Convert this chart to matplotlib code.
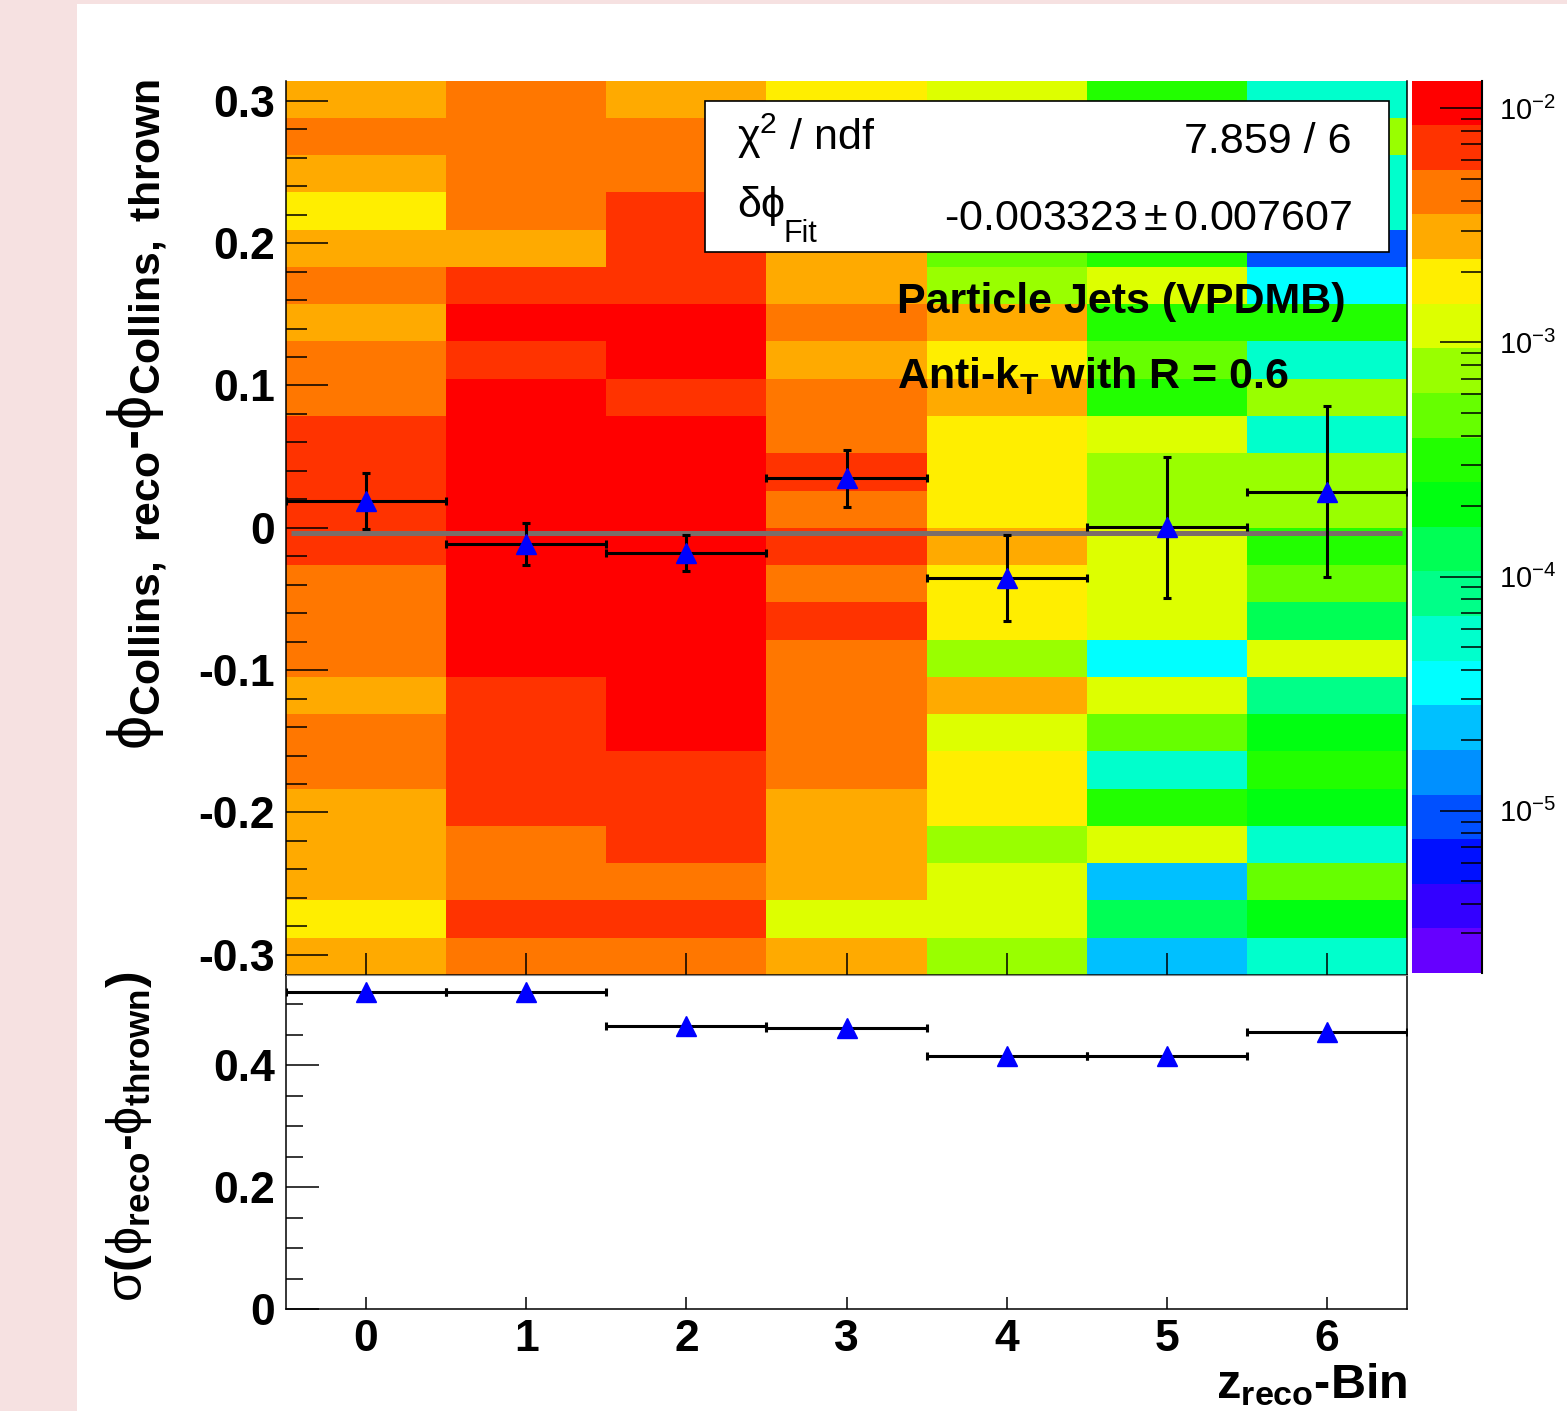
import numpy as np
import matplotlib
matplotlib.use("Agg")
import matplotlib.pyplot as plt
from matplotlib.colors import ListedColormap, LogNorm
from matplotlib.patches import Rectangle
from matplotlib.ticker import MultipleLocator, FuncFormatter, FixedLocator, NullFormatter

plt.rcParams['font.family'] = ['Liberation Sans', 'DejaVu Sans']
plt.rcParams['font.weight'] = 'bold'
plt.rcParams['mathtext.fontset'] = 'custom'
plt.rcParams['mathtext.rm'] = 'Liberation Sans:weight=normal'
plt.rcParams['mathtext.it'] = 'Liberation Sans:italic:weight=normal'
plt.rcParams['mathtext.bf'] = 'Liberation Sans:bold'
plt.rcParams['axes.unicode_minus'] = False

# =============================================================================
# DATOS
# =============================================================================

Z_BINS = [0, 1, 2, 3, 4, 5, 6]
N_PHI_BINS = 24
PHI_MAX = np.pi / 10

# densidad por celda: filas de phi = +0.31 (arriba) hasta -0.31 (abajo), columnas = z-bin 0..6
DENSITY = [
    [2.8e-3, 4.4e-3, 2.8e-3, 1.8e-3, 1.2e-3, 3.1e-4, 5.4e-5],
    [4.4e-3, 4.4e-3, 4.4e-3, 2.8e-3, 1.2e-3, 4.9e-4, 7.6e-4],
    [2.8e-3, 4.4e-3, 4.4e-3, 2.8e-3, 1.8e-3, 3.1e-4, 5.4e-5],
    [1.8e-3, 4.4e-3, 6.8e-3, 2.8e-3, 1.2e-3, 4.9e-4, 5.4e-5],
    [2.8e-3, 2.8e-3, 6.8e-3, 2.8e-3, 4.9e-4, 3.1e-4, 9.4e-6],
    [4.4e-3, 6.8e-3, 6.8e-3, 2.8e-3, 7.6e-4, 1.2e-3, 3.5e-5],
    [2.8e-3, 1.05e-2, 1.05e-2, 4.4e-3, 2.8e-3, 3.1e-4, 3.1e-4],
    [4.4e-3, 6.8e-3, 1.05e-2, 2.8e-3, 1.8e-3, 4.9e-4, 5.4e-5],
    [4.4e-3, 1.05e-2, 6.8e-3, 4.4e-3, 2.8e-3, 3.1e-4, 7.6e-4],
    [6.8e-3, 1.05e-2, 1.05e-2, 4.4e-3, 1.8e-3, 1.2e-3, 5.4e-5],
    [6.8e-3, 1.05e-2, 1.05e-2, 6.8e-3, 1.8e-3, 7.6e-4, 7.6e-4],
    [6.8e-3, 1.05e-2, 1.05e-2, 4.4e-3, 1.8e-3, 7.6e-4, 7.6e-4],
    [6.8e-3, 1.05e-2, 1.05e-2, 6.8e-3, 2.8e-3, 1.2e-3, 3.1e-4],
    [4.4e-3, 1.05e-2, 1.05e-2, 4.4e-3, 1.8e-3, 1.2e-3, 4.9e-4],
    [4.4e-3, 1.05e-2, 1.05e-2, 6.8e-3, 1.8e-3, 1.2e-3, 1.3e-4],
    [4.4e-3, 1.05e-2, 1.05e-2, 4.4e-3, 7.6e-4, 3.5e-5, 1.2e-3],
    [2.8e-3, 6.8e-3, 1.05e-2, 4.4e-3, 2.8e-3, 1.2e-3, 8.4e-5],
    [4.4e-3, 6.8e-3, 1.05e-2, 4.4e-3, 1.2e-3, 4.9e-4, 2.0e-4],
    [4.4e-3, 6.8e-3, 6.8e-3, 4.4e-3, 1.8e-3, 5.4e-5, 3.1e-4],
    [2.8e-3, 6.8e-3, 6.8e-3, 2.8e-3, 1.8e-3, 3.1e-4, 2.0e-4],
    [2.8e-3, 4.4e-3, 6.8e-3, 2.8e-3, 7.6e-4, 1.2e-3, 5.4e-5],
    [2.8e-3, 4.4e-3, 4.4e-3, 2.8e-3, 1.2e-3, 2.3e-5, 4.9e-4],
    [1.8e-3, 6.8e-3, 6.8e-3, 1.2e-3, 1.2e-3, 1.3e-4, 2.0e-4],
    [2.8e-3, 4.4e-3, 4.4e-3, 2.8e-3, 7.6e-4, 2.3e-5, 5.4e-5],
]

# media de phi_reco - phi_thrown por z-bin
PHI_MEAN = [0.019, -0.0113, -0.0179, 0.0349, -0.0352, 0.0004, 0.0255]
PHI_ERR = [0.0195, 0.0145, 0.0127, 0.020, 0.030, 0.0495, 0.060]

# anchura (sigma) por z-bin
SIGMA = [0.520, 0.520, 0.464, 0.461, 0.415, 0.415, 0.455]

FIT_MEAN = -0.003323
FIT_ERR = 0.007607
FIT_RANGE = (-0.47, 6.47)
CHI2 = 7.859
NDF = 6

PALETTE = ['#6600ff', '#3300ff', '#0010ff', '#0050ff', '#0090ff', '#00c0ff',
           '#00ffff', '#00ffcc', '#00ff88', '#00ff55', '#00ff11', '#22ff00',
           '#66ff00', '#99ff00', '#ddff00', '#ffee00', '#ffaa00', '#ff7700',
           '#ff3300', '#ff0000']
Z_MIN, Z_MAX = 2.03e-6, 1.31e-2

# =============================================================================
# FIGURA
# =============================================================================

W, H = 1567, 1411


def fx(x):
    """pixel -> fraccion de figura (horizontal)"""
    return x / W


def fy(y):
    """pixel -> fraccion de figura (vertical, desde arriba)"""
    return 1 - y / H


def fmt_g(v, pos):
    return f"{round(v, 3) + 0.0:g}"


fig = plt.figure(figsize=(W / 100, H / 100), dpi=100)
fig.patch.set_facecolor('#f6e1e1')
fig.add_artist(Rectangle((fx(77), 0), 1 - fx(77), fy(4), transform=fig.transFigure,
                         facecolor='white', edgecolor='none', zorder=-10))

ax = fig.add_axes([fx(286), fy(975), fx(1407) - fx(286), fy(80.6) - fy(975)])
axb = fig.add_axes([fx(286), fy(1309), fx(1407) - fx(286), fy(975) - fy(1309)])
cax = fig.add_axes([fx(1412), fy(973), fx(1482) - fx(1412), fy(80.6) - fy(973)])

# --- panel superior: mapa 2D + medias ---
cmap = ListedColormap(PALETTE)
norm = LogNorm(vmin=Z_MIN, vmax=Z_MAX)
x_edges = np.arange(len(Z_BINS) + 1) - 0.5
phi_edges = np.linspace(-PHI_MAX, PHI_MAX, N_PHI_BINS + 1)
mesh = ax.pcolormesh(x_edges, phi_edges, np.flipud(np.array(DENSITY)), cmap=cmap, norm=norm)

ax.hlines(FIT_MEAN, FIT_RANGE[0], FIT_RANGE[1], color='#7b6e69', lw=3.6, zorder=3)
ax.errorbar(Z_BINS, PHI_MEAN, xerr=0.5, yerr=PHI_ERR, fmt='^', color='blue', ms=15,
            ecolor='black', elinewidth=2.2, capsize=3, capthick=2.2, zorder=4)

ax.set_xlim(-0.5, 6.5)
ax.set_ylim(-PHI_MAX, PHI_MAX)
ax.xaxis.set_major_locator(FixedLocator(Z_BINS))
ax.yaxis.set_major_locator(MultipleLocator(0.1))
ax.yaxis.set_minor_locator(MultipleLocator(0.02))
ax.yaxis.set_major_formatter(FuncFormatter(fmt_g))
ax.tick_params(axis='x', direction='in', length=15.6, width=1.1, labelbottom=False)
ax.tick_params(axis='y', which='major', direction='in', length=30, width=1.1, labelsize=32, pad=8)
ax.tick_params(axis='y', which='minor', direction='in', length=15, width=1.1)
ax.spines['top'].set_visible(False)
for s in ['left', 'right', 'bottom']:
    ax.spines[s].set_linewidth(1.1)

# --- paleta ---
cb = fig.colorbar(mesh, cax=cax)
cb.outline.set_visible(False)
cb.minorticks_on()
cax.yaxis.set_ticks_position('right')
cax.yaxis.set_major_formatter(FuncFormatter(lambda v, p: r'$\mathrm{10^{%d}}$' % round(np.log10(v))))
cax.yaxis.set_minor_formatter(NullFormatter())
cax.tick_params(which='major', direction='in', length=30, width=1.1, labelsize=21, pad=12)
cax.tick_params(which='minor', direction='in', length=15, width=1.1)
cax.plot([1, 1], [0, 1], transform=cax.transAxes, color='black', lw=1.5, clip_on=False)

# --- caja de estadisticas ---
fig.add_artist(Rectangle((fx(705), fy(252)), fx(1389) - fx(705), fy(100.7) - fy(252),
                         transform=fig.transFigure, facecolor='white', edgecolor='black',
                         lw=1.2, zorder=5))
fig.text(fx(737), fy(150), r'$\mathrm{\chi}^{2}$ / ndf', fontsize=31, fontweight='normal',
         va='baseline', ha='left', zorder=6)
fig.text(fx(1352), fy(153), f'{CHI2:.3f} / {NDF}', fontsize=31, fontweight='normal',
         va='baseline', ha='right', zorder=6)
fig.text(fx(737), fy(217), r'$\mathrm{\delta\phi}$', fontsize=31, fontweight='normal',
         va='baseline', ha='left', zorder=6)
fig.text(fx(783), fy(242), 'Fit', fontsize=22, fontweight='normal',
         va='baseline', ha='left', zorder=6)
fig.text(fx(1352), fy(230), f'{FIT_MEAN:.6f}' + r'$\,\mathrm{\pm}\,$' + f'{FIT_ERR:.6f}', fontsize=31,
         fontweight='normal', va='baseline', ha='right', zorder=6)

fig.text(fx(897), fy(313), 'Particle Jets (VPDMB)', fontsize=31, va='baseline', ha='left', zorder=6)
fig.text(fx(897), fy(388), r'Anti-k$_{\mathbf{T}}$ with R = 0.6', fontsize=31, va='baseline',
         ha='left', zorder=6)

# --- panel inferior: anchura ---
axb.errorbar(Z_BINS, SIGMA, xerr=0.5, fmt='^', color='blue', ms=15, ecolor='black',
             elinewidth=2.2, capsize=3, capthick=2.2)
axb.set_xlim(-0.5, 6.5)
axb.set_ylim(0, 0.548)
axb.xaxis.set_major_locator(FixedLocator(Z_BINS))
axb.yaxis.set_major_locator(MultipleLocator(0.2))
axb.yaxis.set_minor_locator(MultipleLocator(0.05))
axb.yaxis.set_major_formatter(FuncFormatter(fmt_g))
axb.tick_params(axis='x', direction='in', length=9, width=1.1, labelsize=32, pad=7)
axb.tick_params(axis='y', which='major', direction='in', length=24, width=1.1, labelsize=32, pad=8)
axb.tick_params(axis='y', which='minor', direction='in', length=12, width=1.1)
for s in ['left', 'right', 'bottom']:
    axb.spines[s].set_linewidth(1.1)
axb.spines['top'].set_color('#888888')
axb.spines['top'].set_linewidth(0.8)

# --- titulos de ejes ---
fig.text(fx(137), fy(415), r'$\mathrm{\phi}_{\mathbf{Collins,\ reco}}$-$\mathrm{\phi}_{\mathbf{Collins,\ thrown}}$',
         fontsize=44, rotation=90, ha='center', va='center')
fig.text(fx(129), fy(1137), r'$\mathrm{\sigma}$($\mathrm{\phi}_{\mathbf{reco}}$-$\mathrm{\phi}_{\mathbf{thrown}}$)',
         fontsize=36, rotation=90, ha='center', va='center')
fig.text(fx(1407), fy(1398), r'z$_{\mathbf{reco}}$-Bin', fontsize=35, ha='right', va='baseline')

fig.savefig('out.png', dpi=100, facecolor=fig.get_facecolor())
